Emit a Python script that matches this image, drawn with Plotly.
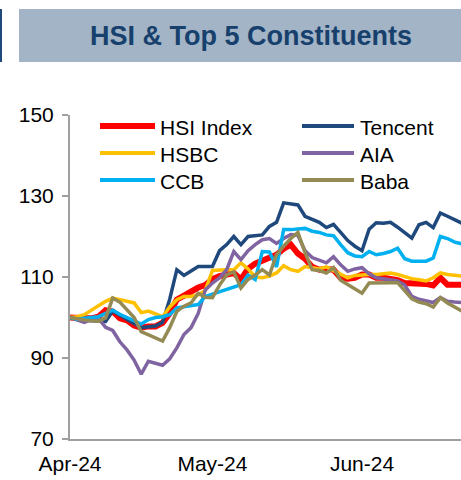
import plotly.graph_objects as go

dates = [
    "2024-04-02", "2024-04-03", "2024-04-05", "2024-04-08", "2024-04-09", "2024-04-10", "2024-04-11", "2024-04-12",
    "2024-04-15", "2024-04-16", "2024-04-17", "2024-04-18", "2024-04-19", "2024-04-22", "2024-04-23", "2024-04-24",
    "2024-04-25", "2024-04-26", "2024-04-29", "2024-04-30",
    "2024-05-02", "2024-05-03", "2024-05-06", "2024-05-07", "2024-05-08", "2024-05-09", "2024-05-10", "2024-05-13",
    "2024-05-14", "2024-05-16", "2024-05-17", "2024-05-20", "2024-05-21", "2024-05-22", "2024-05-23", "2024-05-24",
    "2024-05-27", "2024-05-28", "2024-05-29", "2024-05-30", "2024-05-31",
    "2024-06-03", "2024-06-04", "2024-06-05", "2024-06-06", "2024-06-07", "2024-06-11", "2024-06-12", "2024-06-13",
    "2024-06-14", "2024-06-17", "2024-06-18", "2024-06-19", "2024-06-20", "2024-06-21", "2024-06-24",
]

hsi = [100, 99.8, 99.8, 99.8, 100.2, 101.8, 101.5, 99.8, 99.3, 98.0,
       97.5, 97.8, 97.8, 98.7, 101.0, 104.4, 105.5, 106.5, 107.4, 108.0,
       109.5, 110.2, 110.6, 111.0, 109.4, 112.0, 113.3, 114.0, 114.7, 115.5,
       117.0, 118.0, 115.8, 114.5, 112.5, 111.8, 112.0, 111.8, 109.8, 109.6,
       109.8, 110.6, 110.6, 109.8, 109.8, 109.6, 109.2, 108.5, 108.5, 108.5,
       108.3, 107.9, 109.8, 108.1, 108.1, 108.1]

tencent = [100, 99.5, 99.3, 99.2, 99.0, 99.0, 101.6, 100.5, 99.5, 98.5,
           97.5, 97.6, 97.9, 98.8, 104.5, 111.8, 110.4, 111.5, 112.6, 112.6,
           112.6, 116.5, 118.0, 120.0, 118.0, 120.0, 120.2, 120.4, 122.5, 123.5,
           128.3, 128.1, 127.8, 125.0, 124.3, 123.5, 122.2, 123.0, 121.0, 119.0,
           117.6, 116.5, 121.8, 123.4, 123.3, 123.5, 122.3, 120.9, 119.6, 122.9,
           123.5, 122.2, 125.8, 125.0, 124.2, 123.3]

hsbc = [100, 100.2, 100.7, 101.8, 102.8, 104.0, 104.8, 104.5, 104.0, 103.6,
        101.2, 101.6, 101.0, 100.2, 102.6, 104.4, 105.2, 105.2, 105.6, 106.7,
        111.6, 111.8, 111.8, 111.8, 113.5, 112.0, 110.0, 109.8, 110.2, 111.0,
        112.8, 111.8, 111.4, 112.6, 112.4, 112.0, 112.5, 111.6, 110.5, 109.8,
        110.4, 110.6, 110.6, 110.6, 110.8, 111.0, 110.6, 110.0, 109.6, 109.3,
        109.0, 109.8, 111.0, 110.6, 110.4, 110.2]

aia = [100, 99.4, 98.8, 99.5, 99.8, 97.6, 96.8, 94.0, 92.0, 89.5,
       86.0, 89.2, 88.7, 88.2, 89.8, 92.5, 95.8, 97.5, 101.0, 106.8,
       108.5, 109.8, 111.8, 116.3, 114.3, 116.5, 118.0, 119.2, 119.5, 118.3,
       119.5, 120.5, 120.3, 116.5, 114.8, 114.2, 113.5, 115.0, 113.0, 111.4,
       112.0, 112.3, 110.8, 109.8, 109.6, 109.4, 109.0, 108.0, 105.2, 104.5,
       104.0, 103.7, 104.9, 104.0, 103.8, 103.7]

ccb = [100, 99.6, 99.8, 100.0, 100.2, 101.0, 101.8, 100.8, 100.0, 99.2,
       98.4, 99.5, 100.0, 100.2, 100.7, 102.4, 102.6, 102.8, 103.2, 105.2,
       105.8, 106.2, 106.9, 107.5, 108.1, 110.5, 109.4, 116.3, 116.2, 112.5,
       121.7, 121.7, 121.8, 122.0, 121.3, 121.0, 120.4, 120.2, 118.0, 116.0,
       115.2, 115.0, 116.3, 115.5, 115.8, 116.3, 117.1, 114.5, 113.9, 113.9,
       113.9, 114.7, 120.0, 119.5, 118.6, 118.2]

baba = [100, 99.6, 99.4, 99.2, 99.1, 99.9, 104.8, 103.8, 102.0, 100.0,
        96.5, 95.8, 95.0, 94.2, 97.5, 101.5, 102.8, 103.6, 106.0, 105.0,
        104.9, 108.0, 110.5, 111.3, 107.3, 109.4, 110.5, 111.8, 110.5, 115.5,
        117.6, 119.5, 121.0, 116.0, 111.8, 111.6, 111.0, 112.3, 109.2, 108.2,
        107.2, 106.0, 108.5, 108.6, 108.6, 108.6, 108.6, 106.5, 104.6, 103.8,
        103.4, 102.6, 104.9, 103.6, 102.6, 101.6]

month_tick_dates = ["2024-04-02", "2024-05-02", "2024-06-03"]
month_tick_labels = ["Apr-24", "May-24", "Jun-24"]
y_ticks = [70, 90, 110, 130, 150]

series = [
    ("HSI Index", hsi, "#FF0000", 6),
    ("Tencent", tencent, "#1F497D", 3.5),
    ("HSBC", hsbc, "#FFC000", 3.5),
    ("AIA", aia, "#8064A2", 3.5),
    ("CCB", ccb, "#00B0F0", 3.5),
    ("Baba", baba, "#948A54", 3.5),
]

FONT = "Arial, 'Liberation Sans', sans-serif"

fig = go.Figure()
for name, vals, color, w in series:
    fig.add_trace(go.Scatter(x=dates, y=vals, name=name, mode="lines",
                             line=dict(color=color, width=w), showlegend=False))

W, H = 461, 480
ml, mr, mt, mb = 70, 0, 115, 41
pw = W - ml - mr
ph = H - mt - mb


def px_x(x):
    return (x - ml) / pw


def px_y(y):
    return (H - mb - y) / ph


shapes = [
    dict(type="rect", xref="paper", yref="paper",
         x0=px_x(19), x1=px_x(461), y0=px_y(62), y1=px_y(9),
         fillcolor="#A2B4C6", line=dict(width=0), layer="below"),
    dict(type="rect", xref="paper", yref="paper",
         x0=px_x(0), x1=px_x(2), y0=px_y(62), y1=px_y(9),
         fillcolor="#1F497D", line=dict(width=0), layer="below"),
]
annotations = [
    dict(text="<b>HSI &amp; Top 5 Constituents</b>", xref="paper", yref="paper",
         x=px_x(251), y=px_y(36), xanchor="center", yanchor="middle", showarrow=False,
         font=dict(family=FONT, size=27, color="#17406D")),
]

# legend: two columns, three rows (built from the series list)
legend_cols = [(100, 155, 158), (302, 354, 358)]
legend_rows = [126, 153, 180]
for i, (name, vals, color, w) in enumerate(series):
    lx0, lx1, tx = legend_cols[i % 2]
    ly = legend_rows[i // 2]
    shapes.append(dict(type="line", xref="paper", yref="paper",
                       x0=px_x(lx0), x1=px_x(lx1), y0=px_y(ly), y1=px_y(ly),
                       line=dict(color=color, width=w if w > 4 else 4)))
    annotations.append(dict(text=name, xref="paper", yref="paper",
                            x=px_x(tx), y=px_y(ly + 1), xanchor="left", yanchor="middle",
                            showarrow=False, font=dict(family=FONT, size=21, color="black")))

fig.update_layout(
    width=W, height=H,
    margin=dict(l=ml, r=mr, t=mt, b=mb, pad=0),
    paper_bgcolor="white", plot_bgcolor="white",
    font=dict(family=FONT, size=21, color="black"),
    showlegend=False,
    xaxis=dict(type="category", range=[0, 54.9], tickmode="array",
               tickvals=month_tick_dates, ticktext=month_tick_labels,
               showline=True, linecolor="#A0A0A0", linewidth=2,
               ticks="outside", ticklen=5, tickcolor="rgba(0,0,0,0)",
               showgrid=False, zeroline=False, automargin=False,
               tickfont=dict(family=FONT, size=21, color="black")),
    yaxis=dict(range=[70, 150], tickmode="array", tickvals=y_ticks,
               showline=True, linecolor="#A0A0A0", linewidth=2,
               ticks="outside", ticklen=6, tickwidth=2, tickcolor="#A0A0A0",
               ticklabelstandoff=4,
               showgrid=False, zeroline=False, automargin=False,
               tickfont=dict(family=FONT, size=21, color="black")),
    shapes=shapes,
    annotations=annotations,
)

fig.write_html("out.html", config={"displayModeBar": False},
               post_script="document.body.style.margin='0';document.body.style.overflow='hidden';")
